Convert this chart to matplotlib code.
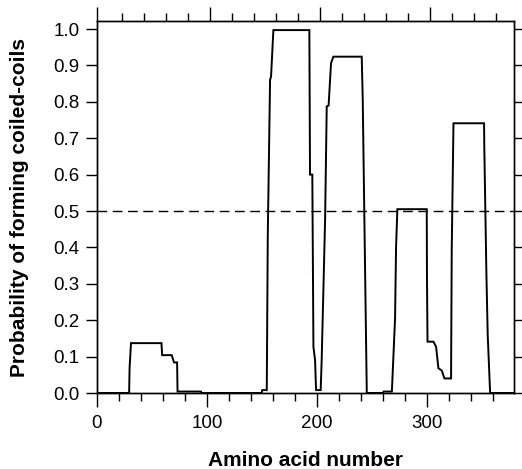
import matplotlib
matplotlib.use("Agg")
import matplotlib.pyplot as plt
from matplotlib.ticker import MultipleLocator

# Coiled-coil probability profile (amino acid position, probability)
positions = [0, 29.2, 29.6, 30.9, 58.6, 59.2, 67.9, 70.0, 72.8, 73.2, 94.5, 95.0,
             149.7, 150.2, 154.3, 155.2, 157.3, 158.2, 160.3, 193.0, 193.6, 195.7,
             196.7, 198.2, 199.1, 203.3, 204.2, 207.3, 208.8, 210.5, 212.7, 214.8,
             240.6, 241.5, 243.6, 245.2, 260.0, 260.5, 268.0, 270.9, 271.8, 273.0,
             299.7, 299.9, 300.4, 305.8, 308.2, 310.3, 313.3, 315.8, 321.8, 322.4,
             324.0, 351.8, 352.0, 353.9, 355.1, 357.3, 380.0]
probability = [0, 0, 0.068, 0.137, 0.137, 0.104, 0.104, 0.084, 0.084, 0.004, 0.004, 0,
               0, 0.008, 0.008, 0.43, 0.86, 0.87, 0.997, 0.997, 0.60, 0.60,
               0.127, 0.09, 0.008, 0.008, 0.09, 0.475, 0.787, 0.79, 0.906, 0.924,
               0.924, 0.81, 0.35, 0, 0, 0.004, 0.004, 0.205, 0.40, 0.505,
               0.505, 0.32, 0.141, 0.141, 0.127, 0.068, 0.062, 0.04, 0.04, 0.393,
               0.741, 0.741, 0.677, 0.33, 0.16, 0, 0]
threshold = 0.5

x_major = [0, 100, 200, 300]
x_labels = ["0", "100", "200", "300"]
y_ticks = [0.0, 0.1, 0.2, 0.3, 0.4, 0.5, 0.6, 0.7, 0.8, 0.9, 1.0]
y_labels = ["0.0", "0.1", "0.2", "0.3", "0.4", "0.5", "0.6", "0.7", "0.8", "0.9", "1.0"]
top_offset = 2.7  # top-axis ticks sit slightly right of the bottom ones

plt.rcParams['font.family'] = ['Liberation Sans', 'DejaVu Sans']

fig = plt.figure(figsize=(5.22, 4.69), dpi=100)
ax = fig.add_axes([97/522, 1-393/469, (514-97)/522, (393-21)/469])

ax.plot(positions, probability, color='black', lw=1.4, solid_joinstyle='miter', zorder=3)
ax.axhline(threshold, color='black', lw=1.0, ls=(0, (7, 4)), zorder=2)

ax.set_xlim(0, 379)
ax.set_ylim(0, 1.022)

ax.set_xticks(x_major)
ax.set_xticklabels(x_labels)
ax.xaxis.set_minor_locator(MultipleLocator(20))
ax.set_yticks(y_ticks)
ax.set_yticklabels(y_labels)

ax.tick_params(axis='x', which='major', direction='out', length=10, width=1,
               top=False, bottom=True, labelsize=13.5, pad=5.5)
ax.tick_params(axis='x', which='minor', direction='out', length=6, width=1,
               top=False, bottom=True)
ax.tick_params(axis='y', which='major', direction='out', length=8, width=1,
               left=True, right=True, labelsize=13.5, pad=4.5)

# top axis ticks
top = ax.twiny()
top.set_xlim(ax.get_xlim())
top_major = [0] + [m + top_offset for m in x_major[1:]]
top_minor = [m + top_offset for m in range(20, 380, 20) if m % 100 != 0]
top.set_xticks(top_major)
top.set_xticks(top_minor, minor=True)
top.tick_params(axis='x', which='major', direction='out', length=10, width=1,
                labeltop=False, top=True)
top.tick_params(axis='x', which='minor', direction='out', length=6, width=1, top=True)

for a in (ax, top):
    for s in a.spines.values():
        s.set_linewidth(1.0)

ax.set_xlabel("Amino acid number", fontsize=15, fontweight='bold', labelpad=14)
ax.set_ylabel("Probability of forming coiled-coils", fontsize=15, fontweight='bold')
ax.yaxis.set_label_coords(-0.163, 0.5)

fig.savefig("out.png", dpi=100)
